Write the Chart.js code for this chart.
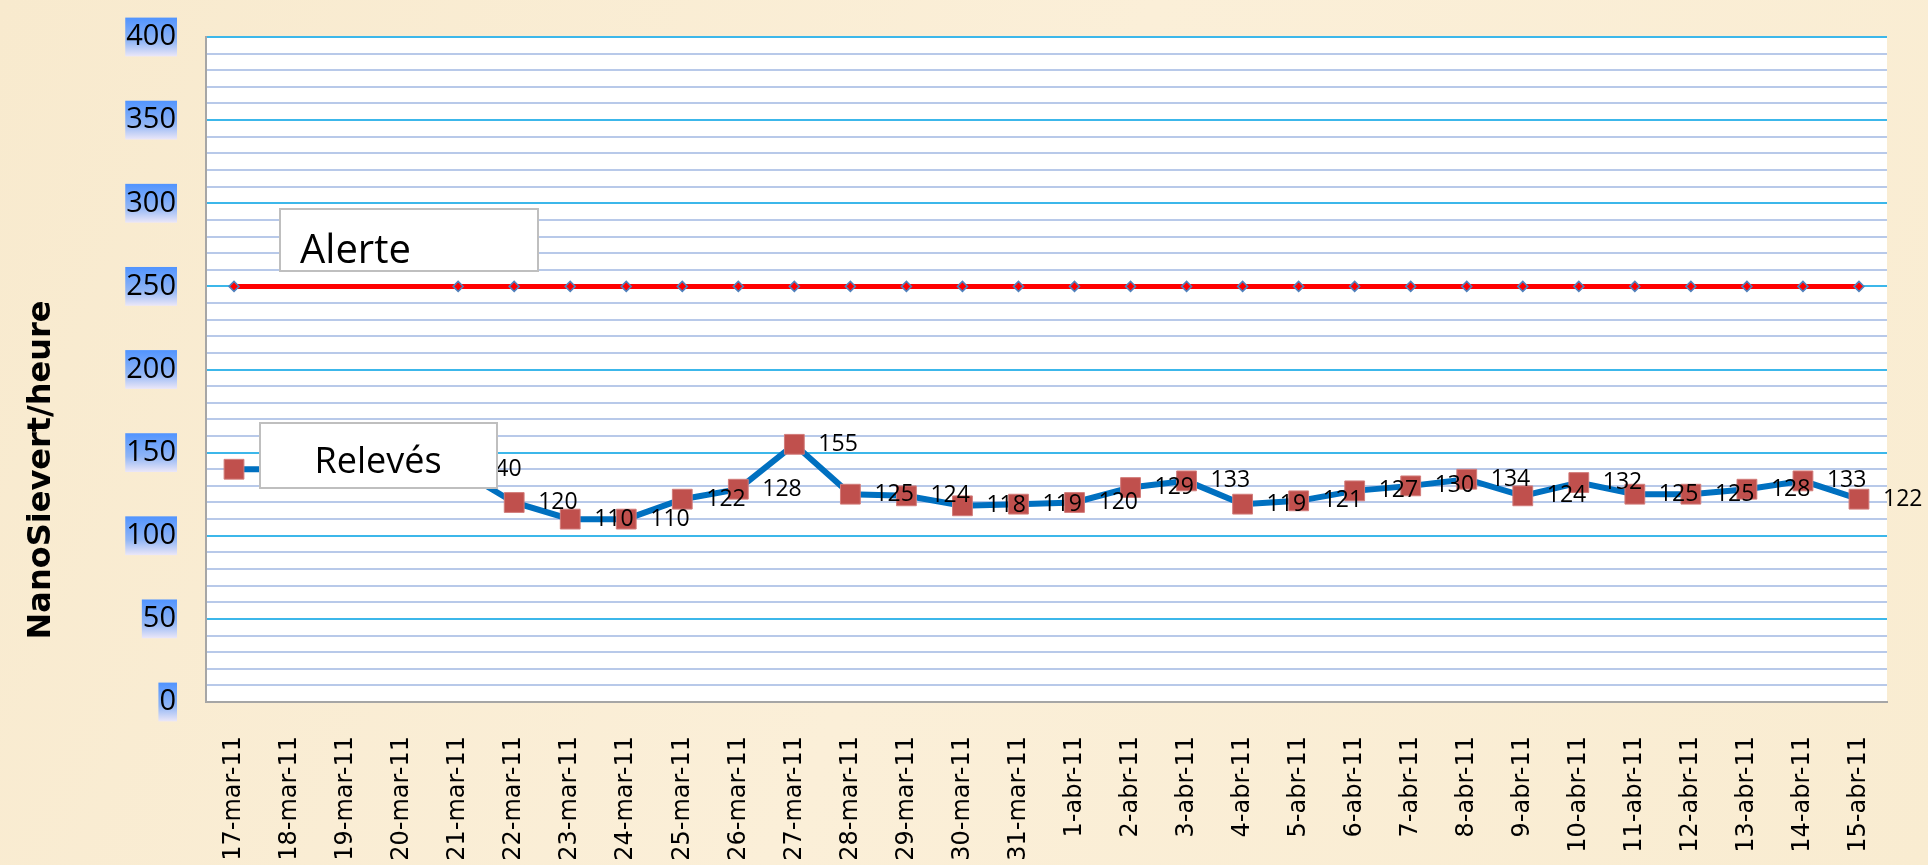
<!DOCTYPE html>
<html>
<head>
<meta charset="utf-8">
<title>NanoSievert/heure</title>
<script src="https://cdn.jsdelivr.net/npm/chart.js@4.4.1/dist/chart.umd.min.js"></script>
<style>
  html, body { margin: 0; padding: 0; background: #f9edd3; }
  canvas { display: block; }
</style>
</head>
<body>
<canvas id="radChart" width="1928" height="865"></canvas>
<script>
// Dates des relevés
const dates = [
    '17-mar-11', '18-mar-11', '19-mar-11', '20-mar-11', '21-mar-11', '22-mar-11',
    '23-mar-11', '24-mar-11', '25-mar-11', '26-mar-11', '27-mar-11', '28-mar-11',
    '29-mar-11', '30-mar-11', '31-mar-11', '1-abr-11', '2-abr-11', '3-abr-11',
    '4-abr-11', '5-abr-11', '6-abr-11', '7-abr-11', '8-abr-11', '9-abr-11',
    '10-abr-11', '11-abr-11', '12-abr-11', '13-abr-11', '14-abr-11', '15-abr-11'
];

// Relevés en nSv/h (pas de mesure du 18 au 20 mars)
const releves = [
    140, null, null, null, 140, 120, 110, 110, 122, 128, 155, 125, 124, 118, 119,
    120, 129, 133, 119, 121, 127, 130, 134, 124, 132, 125, 125, 128, 133, 122
];

// Seuil d'alerte
const alerte = [
    250, null, null, null, 250, 250, 250, 250, 250, 250, 250, 250, 250, 250, 250,
    250, 250, 250, 250, 250, 250, 250, 250, 250, 250, 250, 250, 250, 250, 250
];

// Axe Y
const yMin = 0;
const yMax = 400;
const yMajorStep = 50;
const yMinorStep = 10;

const axisTitle = 'NanoSievert/heure';

Chart.defaults.font.family = '"Open Sans", sans-serif';

// fond beige + zone de tracé blanche
const backgroundPlugin = {
    id: 'background',
    beforeDraw(chart) {
        const { ctx, chartArea: a, width, height } = chart;
        ctx.save();
        const g = ctx.createLinearGradient(0, 0, width, height);
        g.addColorStop(0, '#f8eace');
        g.addColorStop(0.5, '#fbefd8');
        g.addColorStop(1, '#f9ecd1');
        ctx.fillStyle = g;
        ctx.fillRect(0, 0, width, height);
        ctx.fillStyle = '#ffffff';
        ctx.fillRect(a.left, a.top, a.right - a.left, a.bottom - a.top);
        ctx.restore();
    }
};

// étiquettes de valeurs à droite des points
const valueLabels = {
    id: 'valueLabels',
    afterDatasetsDraw(chart) {
        const { ctx } = chart;
        const meta = chart.getDatasetMeta(1);
        ctx.save();
        ctx.font = '23px "Open Sans"';
        ctx.fillStyle = '#000000';
        ctx.textAlign = 'left';
        ctx.textBaseline = 'middle';
        meta.data.forEach(function(pt, i) {
            if (releves[i] === null) return;
            ctx.fillText(String(releves[i]), pt.x + 24, pt.y);
        });
        ctx.restore();
    }
};

// cadres "Alerte" et "Relevés"
const seriesBoxes = {
    id: 'seriesBoxes',
    afterDraw(chart) {
        const { ctx } = chart;
        const a = chart.chartArea;
        const boxes = [
            { text: 'Alerte', x: a.left + 74, y: a.top + 172, w: 258, h: 62, size: 40, align: 'left', tx: 20, ty: 54 },
            { text: 'Relevés', x: a.left + 54, y: a.top + 386, w: 237, h: 65, size: 36, align: 'center', tx: 118, ty: 50 }
        ];
        ctx.save();
        boxes.forEach(function(b) {
            ctx.fillStyle = '#ffffff';
            ctx.fillRect(b.x, b.y, b.w, b.h);
            ctx.strokeStyle = '#bfbfbf';
            ctx.lineWidth = 2;
            ctx.strokeRect(b.x, b.y, b.w, b.h);
            ctx.fillStyle = '#000000';
            ctx.font = b.size + 'px "Open Sans"';
            ctx.textAlign = b.align;
            ctx.textBaseline = 'alphabetic';
            ctx.fillText(b.text, b.x + b.tx, b.y + b.ty);
        });
        ctx.restore();
    }
};

// titre de l'axe Y
const yTitle = {
    id: 'yTitle',
    afterDraw(chart) {
        const { ctx } = chart;
        ctx.save();
        ctx.translate(42, 470);
        ctx.rotate(-Math.PI / 2);
        ctx.font = 'bold 32px "DejaVu Sans"';
        ctx.fillStyle = '#000000';
        ctx.textAlign = 'center';
        ctx.textBaseline = 'middle';
        ctx.fillText(axisTitle, 0, 0);
        ctx.restore();
    }
};

// le fond des graduations est dessiné dans le repère local de l'étiquette
function tickBackdrop(c) {
    const g = c.chart.ctx.createLinearGradient(0, -20, 0, 20);
    g.addColorStop(0, '#4f93ff');
    g.addColorStop(0.6, '#90b5f5');
    g.addColorStop(1, '#efe9f8');
    return g;
}

new Chart(document.getElementById('radChart'), {
    type: 'line',
    data: {
        labels: dates,
        datasets: [{
            label: 'Alerte',
            data: alerte,
            borderColor: '#ff0000',
            backgroundColor: '#ff0000',
            borderWidth: 5,
            pointStyle: 'rectRot',
            pointRadius: 5,
            pointBackgroundColor: '#ff0000',
            pointBorderColor: '#4f81bd',
            pointBorderWidth: 1.5,
            spanGaps: true,
            tension: 0
        }, {
            label: 'Relevés',
            data: releves,
            borderColor: '#0070c0',
            backgroundColor: '#c0504d',
            borderWidth: 6,
            pointStyle: 'rect',
            pointRadius: 14,
            pointBackgroundColor: '#c0504d',
            pointBorderColor: '#d27c7a',
            pointBorderWidth: 1,
            spanGaps: true,
            tension: 0
        }]
    },
    options: {
        responsive: false,
        animation: false,
        devicePixelRatio: 1,
        layout: { padding: { top: 37, right: 41, bottom: 0, left: 0 } },
        plugins: {
            legend: { display: false },
            tooltip: { enabled: false }
        },
        scales: {
            x: {
                offset: true,
                grid: { display: false },
                border: { display: true, color: '#a6a6a6', width: 2 },
                ticks: {
                    minRotation: 90,
                    maxRotation: 90,
                    autoSkip: false,
                    padding: 26,
                    color: '#000000',
                    font: { family: '"DejaVu Sans"', size: 24 }
                },
                afterFit(scale) { scale.height = 163; }
            },
            y: {
                min: yMin,
                max: yMax,
                grid: {
                    drawTicks: false,
                    lineWidth: 2,
                    color: function(c) {
                        if (c.tick.value === 0) return '#a6a6a6';
                        return c.tick.value % yMajorStep === 0 ? '#3cb7ea' : '#b8c9e9';
                    }
                },
                border: { display: true, color: '#a6a6a6', width: 2 },
                ticks: {
                    stepSize: yMinorStep,
                    autoSkip: false,
                    padding: 30,
                    color: '#000000',
                    font: { size: 29 },
                    callback: function(v) { return v % yMajorStep === 0 ? String(v) : ''; },
                    showLabelBackdrop: function(c) { return c.tick.value % yMajorStep === 0; },
                    backdropColor: tickBackdrop,
                    backdropPadding: { top: 2, bottom: 2, left: 1, right: 1 }
                },
                afterFit(scale) {
                    scale.width = 206;
                    scale.paddingTop = 0;
                    scale.paddingBottom = 0;
                }
            }
        }
    },
    plugins: [backgroundPlugin, valueLabels, seriesBoxes, yTitle]
});
</script>
</body>
</html>
